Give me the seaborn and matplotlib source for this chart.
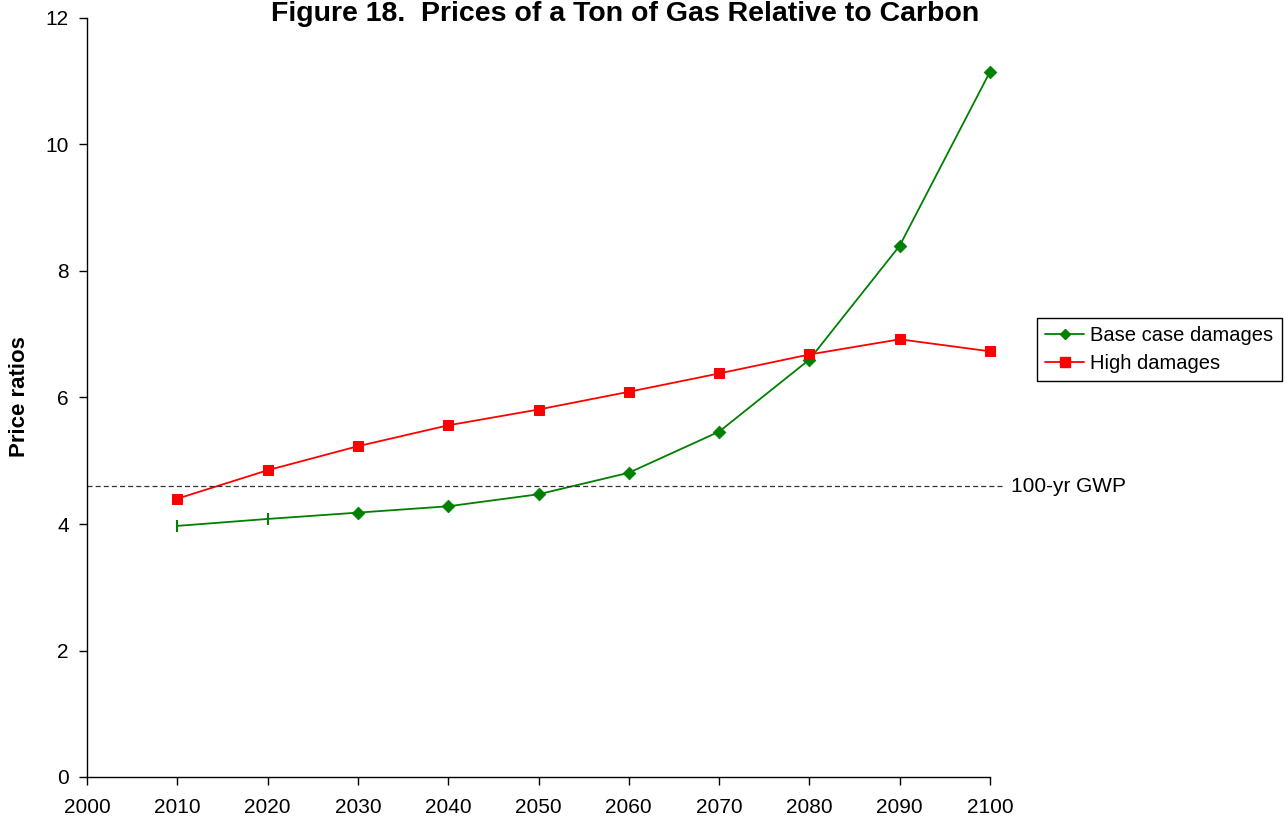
import matplotlib
matplotlib.use('Agg')
import matplotlib.pyplot as plt
import pandas as pd
import seaborn as sns

sns.set_style("white")
plt.rcParams['font.family'] = ['Liberation Sans', 'DejaVu Sans']
plt.rcParams['text.color'] = 'black'
plt.rcParams['axes.labelcolor'] = 'black'
plt.rcParams['xtick.color'] = 'black'
plt.rcParams['ytick.color'] = 'black'

# Data
years = [2010, 2020, 2030, 2040, 2050, 2060, 2070, 2080, 2090, 2100]
base_case = [3.97, 4.08, 4.18, 4.28, 4.47, 4.81, 5.46, 6.60, 8.40, 11.15]
high_damages = [4.40, 4.85, 5.23, 5.56, 5.81, 6.09, 6.38, 6.68, 6.92, 6.73]
gwp_100yr = 4.6

df = pd.DataFrame({'Year': years, 'Base': base_case, 'High': high_damages})

fig = plt.figure(figsize=(12.88, 8.25), dpi=100)
ax = fig.add_axes([87 / 1288, 48 / 825, 903 / 1288, 759 / 825])

green = '#008000'
red = '#FF0000'

# Base case: line, first two points drawn with bar markers, rest diamonds
sns.lineplot(data=df, x='Year', y='Base', ax=ax, color=green, linewidth=1.3,
             label='_nolegend_')
sns.scatterplot(data=df.iloc[:2], x='Year', y='Base', ax=ax, marker='|',
                color=green, s=80, linewidth=1.5, legend=False, clip_on=False)
sns.scatterplot(data=df.iloc[2:], x='Year', y='Base', ax=ax, marker='D',
                color=green, s=42, edgecolor=green, legend=False, clip_on=False)

sns.lineplot(data=df, x='Year', y='High', ax=ax, color=red, linewidth=1.3,
             marker='s', markersize=7.5, markeredgecolor=red, label='_nolegend_',
             clip_on=False)

# Legend proxies
ax.plot([], [], color=green, marker='D', markersize=5.5, linewidth=1.3,
        label='Base case damages')
ax.plot([], [], color=red, marker='s', markersize=6.5, linewidth=1.3,
        label='High damages')

# 100-yr GWP reference line
ax.plot([2000, 2101.5], [gwp_100yr, gwp_100yr], color='#333333',
        linestyle=(0, (4, 2.5)), linewidth=0.9, clip_on=False)
ax.text(2102.3, gwp_100yr, '100-yr GWP', fontsize=15, va='center', ha='left')

ax.set_xlim(2000, 2100)
ax.set_ylim(0, 12)
ax.set_xticks(range(2000, 2101, 10))
ax.set_yticks(range(0, 13, 2))
ax.tick_params(axis='x', direction='out', length=6, width=1, labelsize=15,
               bottom=True, pad=9)
ax.tick_params(axis='y', direction='out', length=6, width=1, labelsize=15,
               left=True, pad=7)
for side in ['top', 'right']:
    ax.spines[side].set_visible(False)
for side in ['left', 'bottom']:
    ax.spines[side].set_color('black')
    ax.spines[side].set_linewidth(1)

ax.set_xlabel('')
ax.set_ylabel('')
fig.text(20 / 1288, 1 - 397 / 825, 'Price ratios', fontsize=16, fontweight='bold',
         rotation=90, ha='center', va='center')

fig.text(625 / 1288, 1 - 14 / 825, 'Figure 18.  Prices of a Ton of Gas Relative to Carbon',
         fontsize=20.5, fontweight='bold', ha='center', va='center')

leg = ax.legend(loc='upper left', bbox_to_anchor=(1.052, 0.605), fontsize=14.5,
                frameon=True, fancybox=False, edgecolor='black', framealpha=1,
                borderpad=0.4, labelspacing=0.45, handlelength=1.95,
                handletextpad=0.3, borderaxespad=0)
leg.get_frame().set_linewidth(1)

fig.savefig('out.png', dpi=100)
plt.close(fig)
